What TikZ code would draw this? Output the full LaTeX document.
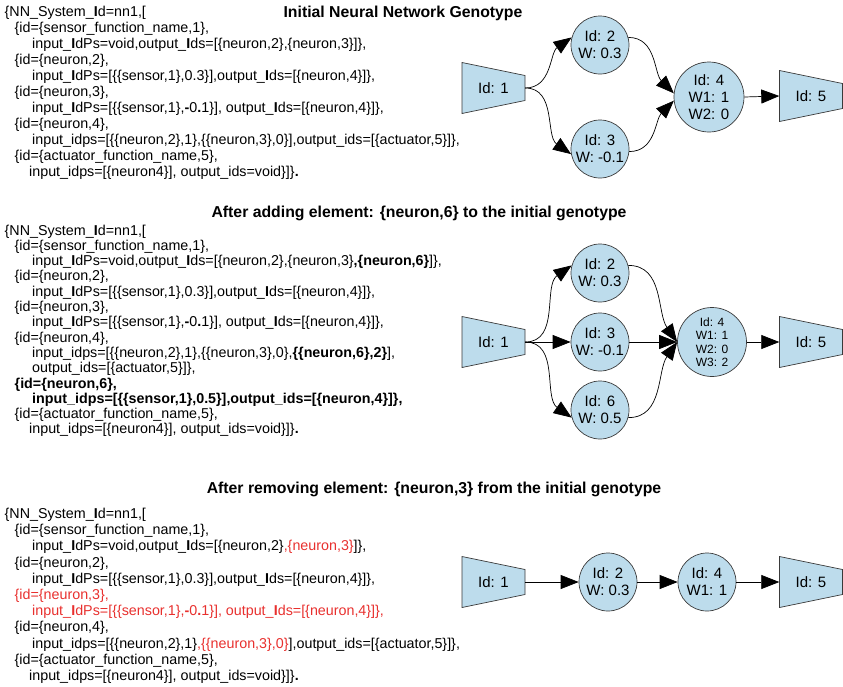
\documentclass[tikz,border=0pt]{standalone}
\usepackage{fontspec}
\setmainfont{Liberation Sans}
\usetikzlibrary{arrows.meta}

\definecolor{nfill}{HTML}{BDDCEC}
\definecolor{edge}{HTML}{3A3A3A}
\definecolor{hl}{HTML}{E8302E}

\newcommand\bI{\textbf{I}}
\newcommand\codefont{\fontsize{14.3}{16}\selectfont}
\newcommand\labfont{\fontsize{15}{17}\selectfont}

% sensor / actuator trapezium: polygon drawn first, text node on top
\newcommand\trapbox[4]{%
  \filldraw[draw=edge, line width=0.7pt, fill=nfill]
    (#2-31.5,#3-25.5) -- (#2+31.5,#3-12.5) -- (#2+31.5,#3+12.5) -- (#2-31.5,#3+25.5) -- cycle;
  \node[trapz] (#1) at (#2,#3) {#4};}

\begin{document}
\begin{tikzpicture}[x=1pt,y=-1pt,
  code/.style={anchor=base west, inner sep=0pt, font=\codefont},
  heading/.style={anchor=base, inner sep=0pt, font=\fontsize{15.8}{17}\selectfont\bfseries},
  neuron/.style={circle, draw=edge, line width=0.7pt, fill=nfill, minimum size=58pt,
    inner sep=0pt, align=center, font=\labfont},
  trapz/.style={minimum width=63pt, minimum height=25pt, inner sep=0pt, font=\labfont},
  conn/.style={-{Triangle[length=18pt,width=14pt]}, line width=0.7pt, draw=black},
]
\useasboundingbox (0,0) rectangle (843,686);

% ---------------- headings ----------------
\node[heading] (t1) at (403,17) {Initial Neural Network Genotype};
\node[heading] (t2) at (419,217) {After adding element: \{neuron,6\} to the initial genotype};
\node[heading] (t3) at (434,493) {After removing element: \{neuron,3\} from the initial genotype};

% ---------------- genotype 1 ----------------
\node[code] (a1)  at (4.5,16.5)  {\{NN\_System\_\bI d=nn1,[};
\node[code] (a2)  at (14.5,32.5) {\{id=\{sensor\_function\_name,1\},};
\node[code] (a3)  at (32,48.5)   {input\_\bI dPs=void,output\_\bI ds=[\{neuron,2\},\{neuron,3\}]\},};
\node[code] (a4)  at (14.5,64.5) {\{id=\{neuron,2\},};
\node[code] (a5)  at (32,80.5)   {input\_\bI dPs=[\{\{sensor,1\},0.3\}],output\_\bI ds=[\{neuron,4\}]\},};
\node[code] (a6)  at (14.5,96.5) {\{id=\{neuron,3\},};
\node[code] (a7)  at (32,112.5)  {input\_\bI dPs=[\{\{sensor,1\},\textbf{-}0\textbf{.}1\}], output\_\bI ds=[\{neuron,4\}]\},};
\node[code] (a8)  at (14.5,128.5){\{id=\{neuron,4\},};
\node[code] (a9)  at (32,144.5)  {input\_idps=[\{\{neuron,2\},1\},\{\{neuron,3\},0\}],output\_ids=[\{actuator,5\}]\},};
\node[code] (a10) at (14.5,160.5){\{id=\{actuator\_function\_name,5\},};
\node[code] (a11) at (29,176.5)  {input\_idps=[\{neuron4\}], output\_ids=void\}]\}\textbf{.}};

% ---------------- genotype 2 ----------------
\node[code] (b1)  at (4.5,235)   {\{NN\_System\_\bI d=nn1,[};
\node[code] (b2)  at (14.5,250.3){\{id=\{sensor\_function\_name,1\},};
\node[code] (b3)  at (32,265.6)  {input\_\bI dPs=void,output\_\bI ds=[\{neuron,2\},\{neuron,3\}\textbf{,\{neuron,6\}}]\},};
\node[code] (b4)  at (14.5,280.9){\{id=\{neuron,2\},};
\node[code] (b5)  at (32,296.2)  {input\_\bI dPs=[\{\{sensor,1\},0.3\}],output\_\bI ds=[\{neuron,4\}]\},};
\node[code] (b6)  at (14.5,311.5){\{id=\{neuron,3\},};
\node[code] (b7)  at (32,326.8)  {input\_\bI dPs=[\{\{sensor,1\},\textbf{-}0\textbf{.}1\}], output\_\bI ds=[\{neuron,4\}]\},};
\node[code] (b8)  at (14.5,342.1){\{id=\{neuron,4\},};
\node[code] (b9)  at (32,357.4)  {input\_idps=[\{\{neuron,2\},1\},\{\{neuron,3\},0\},\textbf{\{\{neuron,6\},2\}}],};
\node[code] (b10) at (32,372.7)  {output\_ids=[\{actuator,5\}]\},};
\node[code] (b11) at (14.5,388)  {\textbf{\{id=\{neuron,6\},}};
\node[code] (b12) at (32,403.3)  {\textbf{input\_idps=[\{\{sensor,1\},0.5\}],output\_ids=[\{neuron,4\}]\},}};
\node[code] (b13) at (14.5,418.6){\{id=\{actuator\_function\_name,5\},};
\node[code] (b14) at (29,433.9)  {input\_idps=[\{neuron4\}], output\_ids=void\}]\}\textbf{.}};

% ---------------- genotype 3 ----------------
\node[code] (c1)  at (4.5,518.5) {\{NN\_System\_\bI d=nn1,[};
\node[code] (c2)  at (14.5,534.7){\{id=\{sensor\_function\_name,1\},};
\node[code] (c3)  at (32,550.9)  {input\_\bI dPs=void,output\_\bI ds=[\{neuron,2\}\textcolor{hl}{,\{neuron,3\}}]\},};
\node[code] (c4)  at (14.5,567.1){\{id=\{neuron,2\},};
\node[code] (c5)  at (32,583.3)  {input\_\bI dPs=[\{\{sensor,1\},0.3\}],output\_\bI ds=[\{neuron,4\}]\},};
\node[code, text=hl] (c6) at (14.5,599.5){\{id=\{neuron,3\},};
\node[code, text=hl] (c7) at (32,615.7)  {input\_\bI dPs=[\{\{sensor,1\},\textbf{-}0\textbf{.}1\}], output\_\bI ds=[\{neuron,4\}]\},};
\node[code] (c8)  at (14.5,631.9){\{id=\{neuron,4\},};
\node[code] (c9)  at (32,648.1)  {input\_idps=[\{\{neuron,2\},1\}\textcolor{hl}{,\{\{neuron,3\},0\}}],output\_ids=[\{actuator,5\}]\},};
\node[code] (c10) at (14.5,664.3){\{id=\{actuator\_function\_name,5\},};
\node[code] (c11) at (29,680.5)  {input\_idps=[\{neuron4\}], output\_ids=void\}]\}\textbf{.}};

% ---------------- network 1 ----------------
\trapbox{s1a}{493.5}{88}{Id: 1}
\trapbox{s5a}{811}{96}{Id: 5}
\node[neuron] (n2a) at (600,45)  {Id: 2\\W: 0.3};
\node[neuron] (n3a) at (600,149) {Id: 3\\W: -0.1};
\node[neuron, minimum size=70pt] (n4a) at (709,97) {Id: 4\\W1: 1\\W2: 0};
\draw[conn] (s1a.east) to[out=0,in=215] (n2a.165);
\draw[conn] (s1a.east) to[out=0,in=145] (n3a.190);
\draw[conn] (n2a.15)  to[out=0,in=135] (n4a.174);
\draw[conn] (n3a.-5)  to[out=0,in=225] (n4a.186);
\draw[conn] (n4a.east) -- (s5a.west);

% ---------------- network 2 ----------------
\trapbox{s1b}{493.5}{342}{Id: 1}
\trapbox{s5b}{811}{342}{Id: 5}
\node[neuron] (n2b) at (600,273) {Id: 2\\W: 0.3};
\node[neuron] (n3b) at (600,342) {Id: 3\\W: -0.1};
\node[neuron] (n6b) at (600,410) {Id: 6\\W: 0.5};
\node[neuron, minimum size=69pt, font=\fontsize{12}{13.5}\selectfont] (n4b) at (712,342)
  {Id: 4\\W1: 1\\W2: 0\\W3: 2};
\draw[conn] (s1b.east) to[out=0,in=215] (n2b.165);
\draw[conn] (s1b.east) -- (n3b.west);
\draw[conn] (s1b.east) to[out=0,in=145] (n6b.195);
\draw[conn] (n2b.15)  to[out=0,in=125] (n4b.west);
\draw[conn] (n3b.east) -- (n4b.west);
\draw[conn] (n6b.-15) to[out=0,in=235] (n4b.west);
\draw[conn] (n4b.east) -- (s5b.west);

% ---------------- network 3 ----------------
\trapbox{s1c}{493.5}{582}{Id: 1}
\trapbox{s5c}{811}{582}{Id: 5}
\node[neuron] (n2c) at (608,582) {Id: 2\\W: 0.3};
\node[neuron] (n4c) at (707,582) {Id: 4\\W1: 1};
\draw[conn] (s1c.east) -- (n2c.west);
\draw[conn] (n2c.east) -- (n4c.west);
\draw[conn] (n4c.east) -- (s5c.west);
\end{tikzpicture}
\end{document}
